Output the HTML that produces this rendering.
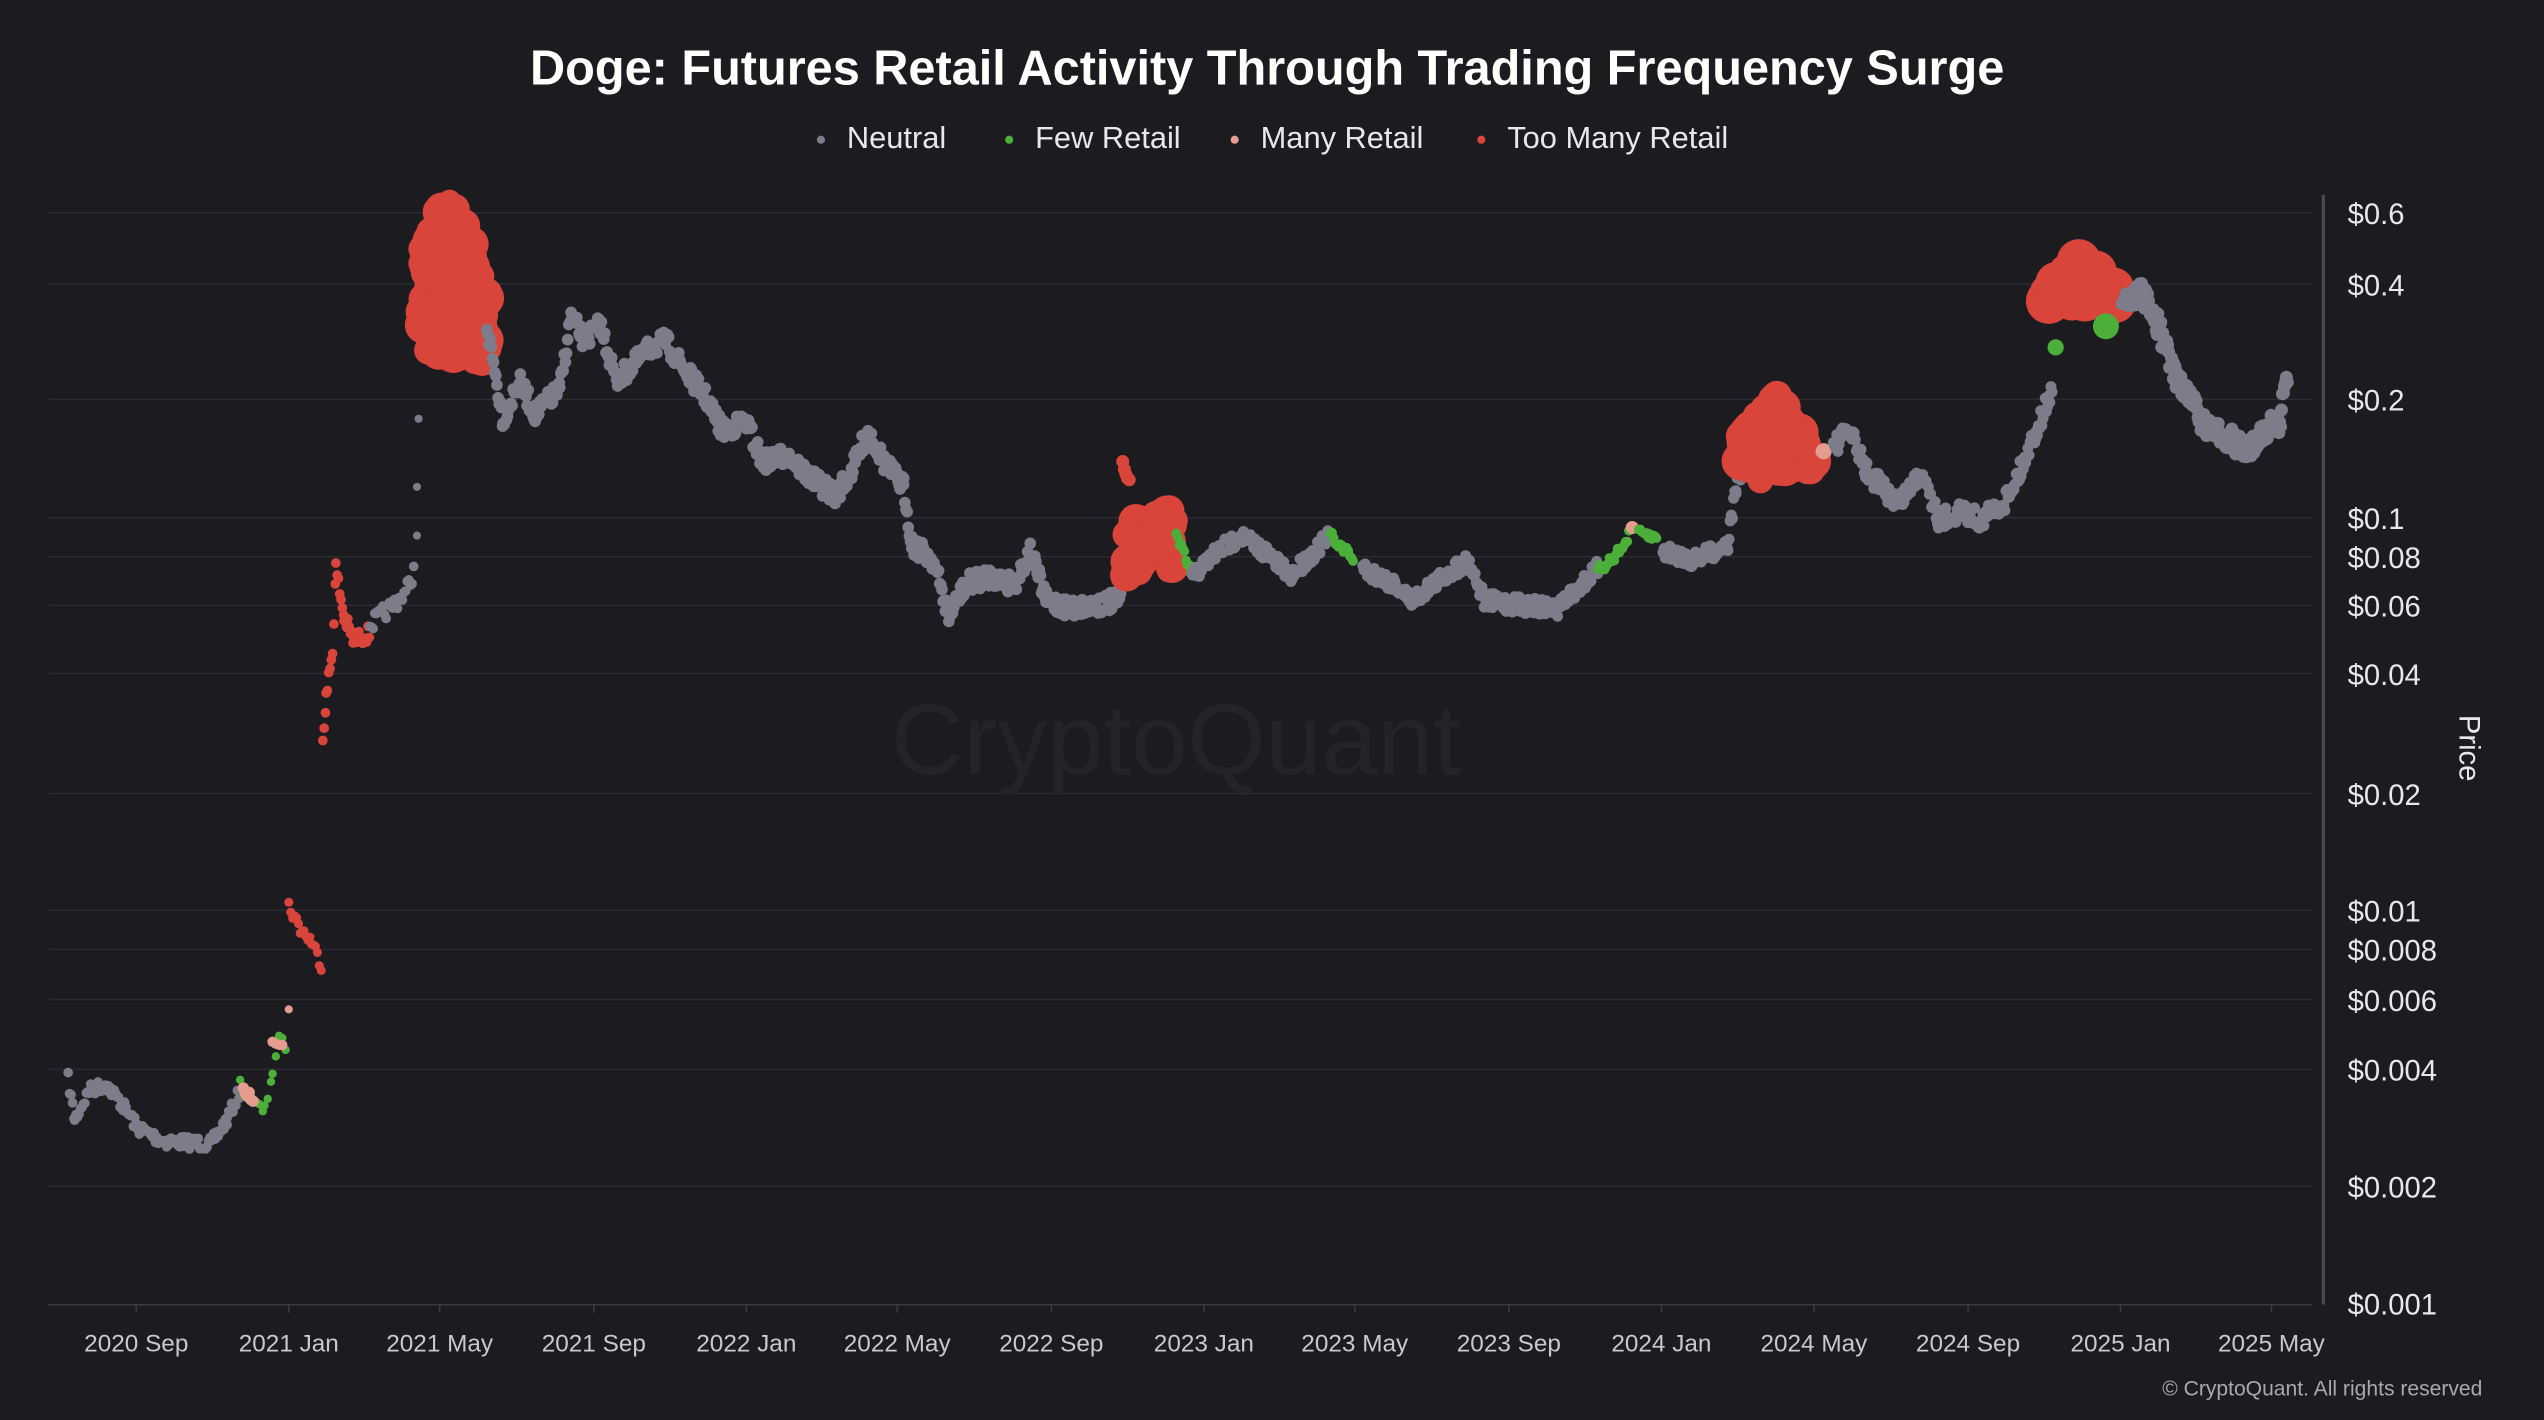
<!DOCTYPE html>
<html><head><meta charset="utf-8"><style>
html,body{margin:0;padding:0;background:#1b1b20;}
svg{display:block;}
text{font-family:"Liberation Sans",sans-serif;}
</style></head><body>
<svg id="s" width="2544" height="1420" viewBox="0 0 1568 875" xmlns="http://www.w3.org/2000/svg">
<rect width="1568" height="875" fill="#1b1b20"/>
<text x="781" y="52" text-anchor="middle" fill="#ffffff" font-size="30" font-weight="bold">Doge: Futures Retail Activity Through Trading Frequency Surge</text>
<g font-size="19" fill="#e8e8ec">
<circle cx="506" cy="86" r="2.5" fill="#7c7c8a"/><text x="522" y="91">Neutral</text>
<circle cx="622" cy="86" r="2.5" fill="#4caf3a"/><text x="638" y="91">Few Retail</text>
<circle cx="761" cy="86" r="2.5" fill="#e59c8f"/><text x="777" y="91">Many Retail</text>
<circle cx="913" cy="86" r="2.5" fill="#d9453a"/><text x="929" y="91">Too Many Retail</text>
</g>
<g id="grid" stroke="#2a2a31" stroke-width="1"></g>
<text x="725" y="477" text-anchor="middle" fill="#232329" font-size="62">CryptoQuant</text>
<line x1="1432" y1="120" x2="1432" y2="804" stroke="#4a4a52" stroke-width="2"/>
<line x1="30" y1="804" x2="1425" y2="804" stroke="#3a3a42" stroke-width="1"/>
<g id="ylab" font-size="18" fill="#e8e8ec"></g>
<g id="xlab" font-size="15" fill="#c8c8cf" text-anchor="middle"></g>
<text transform="translate(1516,461) rotate(90)" text-anchor="middle" fill="#e8e8ec" font-size="18">Price</text>
<text x="1530" y="860" text-anchor="end" fill="#a8a8b0" font-size="13">© CryptoQuant. All rights reserved</text>
<g id="pts"></g>
</svg>
<script>
(function(){
var NS="http://www.w3.org/2000/svg";
function el(t,a,p){var e=document.createElementNS(NS,t);for(var k in a)e.setAttribute(k,a[k]);document.getElementById(p).appendChild(e);return e;}
var yl=[["$0.6",132],["$0.4",176],["$0.2",247],["$0.1",320],["$0.08",344],["$0.06",374],["$0.04",416],["$0.02",490],["$0.01",562],["$0.008",586],["$0.006",617],["$0.004",660],["$0.002",732],["$0.001",804]];
yl.forEach(function(a){if(a[1]!=804)el("line",{x1:30,y1:a[1]-1,x2:1425,y2:a[1]-1},"grid");var t=el("text",{x:1447,y:a[1]+6},"ylab");t.textContent=a[0];});
var xl=[["2020 Sep",84],["2021 Jan",178],["2021 May",271],["2021 Sep",366],["2022 Jan",460],["2022 May",553],["2022 Sep",648],["2023 Jan",742],["2023 May",835],["2023 Sep",930],["2024 Jan",1024],["2024 May",1118],["2024 Sep",1213],["2025 Jan",1307],["2025 May",1400]];
xl.forEach(function(a){el("line",{x1:a[1],y1:804,x2:a[1],y2:809,stroke:"#3a3a42"},"xlab");var t=el("text",{x:a[1],y:833},"xlab");t.textContent=a[0];});
var seed=7;function r(){seed=(seed*16807)%2147483647;return seed/2147483647;}
var C={n:"#7c7c8a",g:"#4caf3a",p:"#e59c8f",r:"#d9453a"};
function seg(pts,col,rad,jit,step){for(var i=0;i<pts.length-1;i++){var a=pts[i],b=pts[i+1];for(var x=a[0];x<b[0];x+=step){var f=(x-a[0])/(b[0]-a[0]);var y=a[1]+(b[1]-a[1])*f+(r()-0.5)*jit;el("circle",{cx:x.toFixed(1),cy:y.toFixed(1),r:rad,fill:col},"pts");}}}
function cl(n,x0,w,xc,ytop,slope,ybot,rmin,rv){for(var i=0;i<n;i++){var x=x0+r()*w;var tp=ytop+Math.abs(x-xc)*slope;if(tp>ybot-4)tp=ybot-4;var y=tp+r()*(ybot-tp);el("circle",{cx:x.toFixed(1),cy:y.toFixed(1),r:(rmin+r()*rv).toFixed(1),fill:C.r},"pts");}}
seg([[42,665],[46,690],[55,672],[65,668],[75,680],[85,695],[100,703],[115,704],[130,705],[140,690],[148,672]],C.n,3,8,0.9);
seg([[148,668],[156,680],[163,685],[168,660],[172,642],[177,644]],C.g,2.6,8,2);
seg([[150,672],[157,678]],C.p,3.5,4,1.2);seg([[168,640],[175,645]],C.p,3.2,4,2);
seg([[178,558],[185,572],[192,580],[198,594]],C.r,2.8,8,1.2);el("circle",{cx:178,cy:622,r:2.5,fill:C.p},"pts");
seg([[199,455],[201,430],[205,400],[207,350],[212,380],[218,395],[228,390]],C.r,3,10,0.8);
seg([[228,385],[240,375],[250,365],[256,350]],C.n,3,10,1);
[[257,330],[257,300],[258,258]].forEach(function(p){el("circle",{cx:p[0],cy:p[1],r:2.5,fill:C.n},"pts");});
cl(160,260,40,276,118,2.2,222,6,6);
seg([[300,200],[310,258],[320,235],[330,255],[345,240],[352,195],[360,210],[370,200],[380,235],[390,225],[400,215],[410,210],[420,225],[435,245],[445,265],[460,260],[470,285],[485,280],[500,295],[515,305],[525,290],[535,265],[545,285],[557,300],[562,335],[575,345],[585,380],[595,360],[610,355],[625,360],[635,340],[645,370],[660,375],[690,370],[695,345]],C.n,3.6,12,0.7);
cl(40,694,30,712,305,1,355,5,6);
seg([[692,285],[697,300]],C.r,4,6,1);
seg([[725,330],[735,355]],C.g,3,6,1);
seg([[735,355],[750,340],[765,330],[780,340],[795,355],[810,340],[820,330]],C.n,3.4,10,0.7);
seg([[820,330],[835,345]],C.g,3,6,1);
seg([[840,350],[860,360],[870,370],[890,355],[905,345],[915,370],[930,372],[960,375],[975,360],[985,350]],C.n,3.4,10,0.7);
seg([[985,352],[1000,338],[1005,328]],C.g,3,6,1);el("circle",{cx:1006,cy:325,r:4,fill:C.p},"pts");
seg([[1010,328],[1022,332]],C.g,3,5,1);
seg([[1025,340],[1045,345],[1065,335],[1070,300],[1075,285]],C.n,3.4,10,0.7);
cl(110,1072,46,1092,238,1.6,290,6,6);
el("circle",{cx:1085,cy:296,r:8,fill:C.r},"pts");el("circle",{cx:1124,cy:278,r:5,fill:C.p},"pts");
seg([[1130,275],[1140,265],[1150,290],[1160,300],[1170,310],[1185,290],[1195,320],[1210,315],[1220,320],[1235,310],[1245,290],[1255,265],[1265,240]],C.n,3.4,12,0.7);
el("circle",{cx:1267,cy:214,r:5,fill:C.g},"pts");
cl(110,1262,42,1284,158,1,186,8,6);
el("circle",{cx:1298,cy:201,r:8,fill:C.g},"pts");
seg([[1308,185],[1320,180],[1330,200],[1340,230],[1350,245],[1360,265],[1375,270],[1385,280],[1395,265],[1405,260],[1410,230]],C.n,4,14,0.6);
})();
</script>
</body></html>
